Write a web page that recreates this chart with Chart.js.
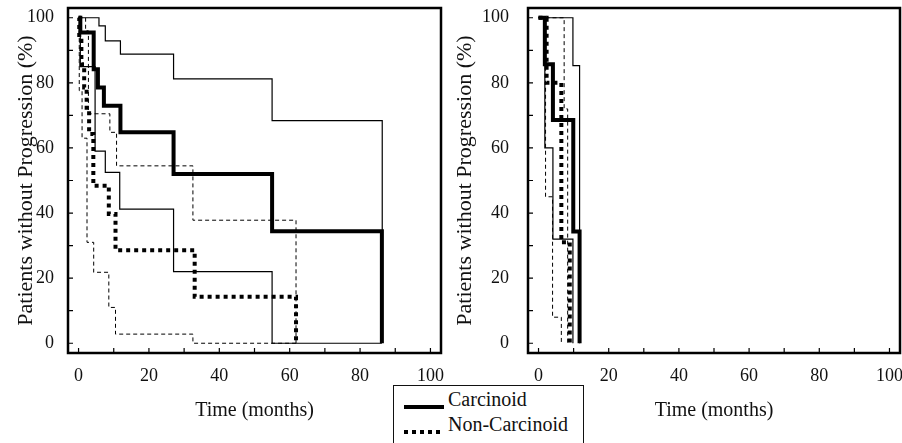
<!DOCTYPE html>
<html>
<head>
<meta charset="utf-8">
<script src="https://cdn.jsdelivr.net/npm/chart.js@4.4.1/dist/chart.umd.min.js"></script>
<style>
  body { margin: 0; background: #fff; }
  #wrap { position: relative; width: 902px; height: 443px; overflow: hidden; }
  .panel { position: absolute; top: 0; height: 443px; }
  #left { left: 0; width: 450px; }
  #right { left: 450px; width: 452px; }
  #legend {
    position: absolute; left: 393px; top: 385px; width: 189px; height: 80px;
    border: 1.5px solid #111; background: #fff;
    font: 20px "Liberation Serif", "Times New Roman", serif; color: #111;
  }
  #legend .txt { position: absolute; left: 54px; line-height: 24px; white-space: nowrap; }
  #legend .sw { position: absolute; left: 10px; height: 4px; }
  #legend .solid { width: 40px; background: #000; }
  #legend .dots { width: 36px; background: repeating-linear-gradient(to right, #000 0 4px, transparent 4px 8px); }
</style>
</head>
<body>
<div id="wrap">
  <div class="panel" id="left"><canvas id="chartLeft"></canvas></div>
  <div class="panel" id="right"><canvas id="chartRight"></canvas></div>
  <div id="legend">
    <div class="sw solid" style="top:19px"></div>
    <div class="txt" style="top:1px">Carcinoid</div>
    <div class="sw dots" style="top:44px"></div>
    <div class="txt" style="top:26px">Non-Carcinoid</div>
  </div>
</div>
<script>
// ---- 刻度 ----
const xTicks = [0, 20, 40, 60, 80, 100];
const yTicks = [0, 20, 40, 60, 80, 100];
const minorTicks = [0, 10, 20, 30, 40, 50, 60, 70, 80, 90, 100];

// ---- 左图：时间 (月) 与无进展比例 (%) ----
const leftCarcT = [0, 0.5, 4.3, 5.5, 7.2, 11.9, 27, 55, 86.2];
const leftCarcV = [100, 95.5, 84.2, 78.6, 73, 64.8, 52, 34.4, 0];
const leftCarcHiT = [0, 5.8, 7.6, 11.9, 27, 55, 86.3];
const leftCarcHiV = [100, 97.5, 92.9, 88.8, 81.2, 68.4, 34.4];
const leftCarcLoT = [0, 0.5, 4.7, 7.6, 11.7, 27, 55, 86.2];
const leftCarcLoV = [100, 85, 59, 52.5, 41.2, 22, 0, 0];

const leftNonT = [0, 0.2, 0.8, 1.6, 2.3, 3.0, 4.2, 8.6, 10.5, 33, 61.8];
const leftNonV = [100, 92.9, 85.7, 78.6, 71.4, 64.3, 48.4, 39.7, 28.6, 14.3, 0];
const leftNonHiT = [0, 2.0, 2.8, 8.9, 10.8, 32.5, 61.8];
const leftNonHiV = [100, 96, 70.5, 64.8, 54.5, 37.8, 0];
const leftNonLoT = [0, 0.2, 1.0, 2.4, 4.3, 8.6, 10.5, 32.5, 61.8];
const leftNonLoV = [100, 77.6, 63, 31, 21.8, 11, 2.8, 0, 0];

// ---- 右图 ----
const rightCarcT = [0, 1.8, 4.1, 9.9, 11.7];
const rightCarcV = [100, 85.7, 68.6, 34.3, 0];
const rightCarcHiT = [0, 9.8, 11.7];
const rightCarcHiV = [100, 85.3, 0];
const rightCarcLoT = [0, 1.8, 4.1, 9.8];
const rightCarcLoV = [100, 60, 32, 0];

const rightNonT = [0, 2.3, 6.5, 8.9];
const rightNonV = [100, 80, 31, 0];
const rightNonHiT = [0, 7.3, 8.3];
const rightNonHiV = [100, 72, 0];
const rightNonLoT = [0, 2.0, 4.0, 6.5];
const rightNonLoV = [100, 45, 8, 0];

const SERIF = '"Liberation Serif", "Times New Roman", serif';

/** 把时间和数值数组合成点 */
function toPoints(t, v) {
  return t.map((x, i) => ({ x, y: v[i] }));
}

/** 各种线型 */
function thickSolid(t, v) { return { data: toPoints(t, v), borderWidth: 4 }; }
function thickDots(t, v) { return { data: toPoints(t, v), borderWidth: 4, borderDash: [4, 4] }; }
function thinSolid(t, v) { return { data: toPoints(t, v), borderWidth: 1.2 }; }
function thinDash(t, v) { return { data: toPoints(t, v), borderWidth: 1, borderDash: [4, 3] }; }

/** 边框 + 向内的刻度线 */
const frameTicks = {
  id: 'frameTicks',
  afterDraw(chart) {
    const { ctx, chartArea: a, scales: { x, y } } = chart;
    ctx.save();
    ctx.strokeStyle = '#000';
    ctx.lineWidth = 1.2;
    ctx.beginPath();
    minorTicks.forEach(v => {
      const px = x.getPixelForValue(v);
      ctx.moveTo(px, a.bottom);
      ctx.lineTo(px, a.bottom - 5);
      const py = y.getPixelForValue(v);
      ctx.moveTo(a.left, py);
      ctx.lineTo(a.left + 5, py);
    });
    ctx.stroke();
    ctx.lineWidth = 2.5;
    ctx.strokeRect(a.left, a.top, a.right - a.left, a.bottom - a.top);
    ctx.restore();
  }
};

function makeChart(id, datasets, opt) {
  const ctx = document.getElementById(id).getContext('2d');
  return new Chart(ctx, {
    type: 'scatter',
    data: {
      datasets: datasets.map(d => Object.assign({
        showLine: true,
        stepped: true,
        borderColor: '#000',
        borderCapStyle: 'butt',
        pointRadius: 0,
        pointHoverRadius: 0,
        fill: false
      }, d))
    },
    options: {
      responsive: true,
      maintainAspectRatio: false,
      animation: false,
      events: [],
      layout: { padding: { top: 8, right: opt.padRight, left: 0, bottom: 0 } },
      plugins: { legend: { display: false }, tooltip: { enabled: false } },
      scales: {
        x: {
          type: 'linear', min: -3, max: 103,
          afterBuildTicks: s => { s.ticks = xTicks.map(v => ({ value: v })); },
          afterFit: s => { s.height = 90; s.paddingLeft = 0; s.paddingRight = 0; },
          grid: { display: false, drawTicks: false },
          border: { display: false },
          ticks: { font: { family: SERIF, size: 18 }, color: '#111', padding: 12, maxRotation: 0 },
          title: {
            display: true, text: 'Time (months)', color: '#111',
            font: { family: SERIF, size: 20 }, padding: { top: 0, bottom: 20 }
          }
        },
        y: {
          type: 'linear', min: -3, max: 103,
          afterBuildTicks: s => { s.ticks = yTicks.map(v => ({ value: v })); },
          afterFit: s => { s.width = opt.yWidth; s.paddingTop = 0; s.paddingBottom = 0; },
          grid: { display: false, drawTicks: false },
          border: { display: false },
          ticks: { font: { family: SERIF, size: 18 }, color: '#111', padding: opt.tickPad },
          title: {
            display: true, text: 'Patients without Progression (%)', color: '#111',
            font: { family: SERIF, size: 22 }, padding: { top: opt.titlePad, bottom: 0 }
          }
        }
      }
    },
    plugins: [frameTicks]
  });
}

makeChart('chartLeft', [
  thickSolid(leftCarcT, leftCarcV),
  thickDots(leftNonT, leftNonV),
  thinSolid(leftCarcHiT, leftCarcHiV),
  thinSolid(leftCarcLoT, leftCarcLoV),
  thinDash(leftNonHiT, leftNonHiV),
  thinDash(leftNonLoT, leftNonLoV)
], { padRight: 9, yWidth: 68, tickPad: 14, titlePad: 13 });

makeChart('chartRight', [
  thickSolid(rightCarcT, rightCarcV),
  thickDots(rightNonT, rightNonV),
  thinSolid(rightCarcHiT, rightCarcHiV),
  thinSolid(rightCarcLoT, rightCarcLoV),
  thinDash(rightNonHiT, rightNonHiV),
  thinDash(rightNonLoT, rightNonLoV)
], { padRight: 2, yWidth: 78, tickPad: 19, titlePad: 2 });
</script>
</body>
</html>
